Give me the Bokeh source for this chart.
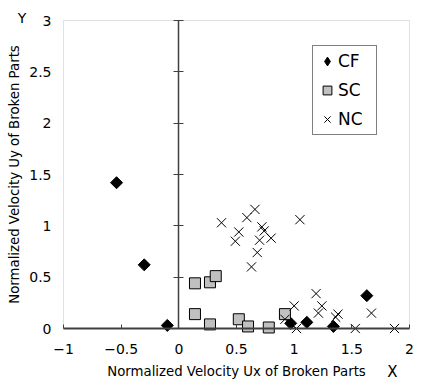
import numpy as np
from bokeh.plotting import figure
from bokeh.models import (Range1d, Legend, LegendItem, Label, LinearAxis,
                          FixedTicker, BoxAnnotation)
from bokeh.embed import file_html
from bokeh.resources import INLINE

# ---- data ----
cf_x = [-0.54, -0.30, -0.10, 0.97, 1.11, 1.34, 1.63]
cf_y = [1.42, 0.62, 0.03, 0.05, 0.06, 0.02, 0.32]

sc_x = [0.14, 0.27, 0.32, 0.14, 0.27, 0.52, 0.60, 0.78, 0.92]
sc_y = [0.44, 0.45, 0.51, 0.14, 0.04, 0.09, 0.02, 0.01, 0.14]

nc_x = [0.37, 0.59, 0.66, 0.52, 0.49, 0.72, 0.74, 0.70, 0.80, 0.68, 0.63, 1.05,
        0.92, 1.00, 1.02, 1.19, 1.24, 1.21, 1.38, 1.36, 1.53, 1.67, 1.87]
nc_y = [1.03, 1.08, 1.16, 0.94, 0.85, 0.99, 0.95, 0.86, 0.88, 0.74, 0.60, 1.06,
        0.09, 0.22, 0.00, 0.34, 0.22, 0.15, 0.14, 0.11, 0.00, 0.15, 0.00]

x_ticks = [-1, -0.5, 0, 0.5, 1, 1.5, 2]
y_ticks = [0, 0.5, 1, 1.5, 2, 2.5, 3]
x_label = "Normalized Velocity Ux of Broken Parts"
y_label = "Normalized Velocity Uy of Broken Parts"

# ---- layout (pixels) ----
W, H = 429, 385
BOX_L, BOX_R, BOX_T, BOX_B = 63, 409, 20, 328
x_min, x_max = x_ticks[0], x_ticks[-1]
y_min, y_max = y_ticks[0], y_ticks[-1]
sx = (BOX_R - BOX_L) / (x_max - x_min)
sy = (BOX_B - BOX_T) / (y_max - y_min)
xr = Range1d(x_min - BOX_L / sx, x_max + (W - BOX_R) / sx)
yr = Range1d(y_min - (H - BOX_B) / sy, y_max + BOX_T / sy)

FONT = "DejaVu Sans"
AXIS_DARK = "#404040"

p = figure(width=W, height=H, x_range=xr, y_range=yr, title=None,
           output_backend="svg", toolbar_location=None,
           x_axis_location=None, y_axis_location=None,
           min_border_left=0, min_border_right=0, min_border_top=0, min_border_bottom=0)
p.grid.visible = False
p.outline_line_color = None
p.background_fill_color = "white"
p.border_fill_color = "white"

# plot box
p.add_layout(BoxAnnotation(left=x_min, right=x_max, bottom=y_min, top=y_max,
                           fill_alpha=0, line_color="#9a9a9a", line_width=1,
                           level="underlay"))

# bottom axis at y = 0
xa = LinearAxis(fixed_location=0, bounds=(x_min, x_max), ticker=FixedTicker(ticks=x_ticks))
xa.axis_line_color = AXIS_DARK
xa.axis_line_width = 2
xa.major_tick_in = 4
xa.major_tick_out = 0
xa.major_tick_line_color = AXIS_DARK
xa.minor_tick_line_color = None
xa.major_label_text_font = FONT
xa.major_label_text_font_size = "14px"
xa.major_label_text_color = "black"
xa.major_label_standoff = 15
xa.major_label_overrides = {-1: "\u22121", -0.5: "\u22120.5"}
xa.axis_label = x_label
xa.axis_label_text_font = FONT
xa.axis_label_text_font_size = "13.3px"
xa.axis_label_text_font_style = "normal"
xa.axis_label_text_color = "black"
xa.axis_label_standoff = 7
p.add_layout(xa, "below")

# left axis at x = -1: tick labels + title only
ya = LinearAxis(fixed_location=x_min, bounds=(y_min, y_max), ticker=FixedTicker(ticks=y_ticks))
ya.axis_line_color = None
ya.major_tick_line_color = None
ya.minor_tick_line_color = None
ya.major_tick_in = 0
ya.major_tick_out = 0
ya.major_label_text_font = FONT
ya.major_label_text_font_size = "14px"
ya.major_label_text_color = "black"
ya.major_label_standoff = 12
ya.axis_label = y_label
ya.axis_label_text_font = FONT
ya.axis_label_text_font_size = "13.3px"
ya.axis_label_text_font_style = "normal"
ya.axis_label_text_color = "black"
ya.axis_label_standoff = 4
p.add_layout(ya, "left")

# vertical axis line at x = 0 with crossing ticks
y0 = LinearAxis(fixed_location=0, bounds=(y_min, y_max), ticker=FixedTicker(ticks=y_ticks))
y0.axis_line_color = AXIS_DARK
y0.axis_line_width = 1.5
y0.major_tick_in = 5
y0.major_tick_out = 5
y0.major_tick_line_color = AXIS_DARK
y0.minor_tick_line_color = None
y0.major_label_text_alpha = 0
y0.major_label_text_font_size = "1px"
p.add_layout(y0, "left")

# CF: legend swatch renderer (plain diamond, hidden under the plotted diamonds)
r_cf_key = p.scatter(cf_x, cf_y, marker="diamond", size=8,
                     fill_color="black", line_color="black")
r_cf = p.scatter(cf_x, cf_y, marker="square", angle=np.pi / 4, size=8.5,
                 fill_color="black", line_color="black")
r_sc = p.scatter(sc_x, sc_y, marker="square", size=11,
                 fill_color="#c0c0c0", line_color="black", line_width=1)
r_nc = p.scatter(nc_x, nc_y, marker="x", size=13, line_color="black", line_width=1)

legend = Legend(items=[LegendItem(label="CF", renderers=[r_cf_key]),
                       LegendItem(label="SC", renderers=[r_sc]),
                       LegendItem(label="NC", renderers=[r_nc])],
                location=(312, 250), border_line_color="black", border_line_width=1,
                label_text_font=FONT, label_text_font_size="17px", label_text_color="black",
                glyph_width=22, glyph_height=24, label_height=24, label_width=35,
                spacing=5, padding=3, label_standoff=0, margin=0,
                background_fill_color="white", background_fill_alpha=1)
p.add_layout(legend, "center")

p.add_layout(Label(x=21.5, y=H - 17, x_units="screen", y_units="screen", text="Y",
                   text_font=FONT, text_font_size="14px",
                   text_align="center", text_baseline="middle", text_color="black"))
p.add_layout(Label(x=392, y=H - 371, x_units="screen", y_units="screen", text="X",
                   text_font=FONT, text_font_size="15px",
                   text_align="center", text_baseline="middle", text_color="black"))

open("out.html", "w").write(file_html(p, INLINE))
